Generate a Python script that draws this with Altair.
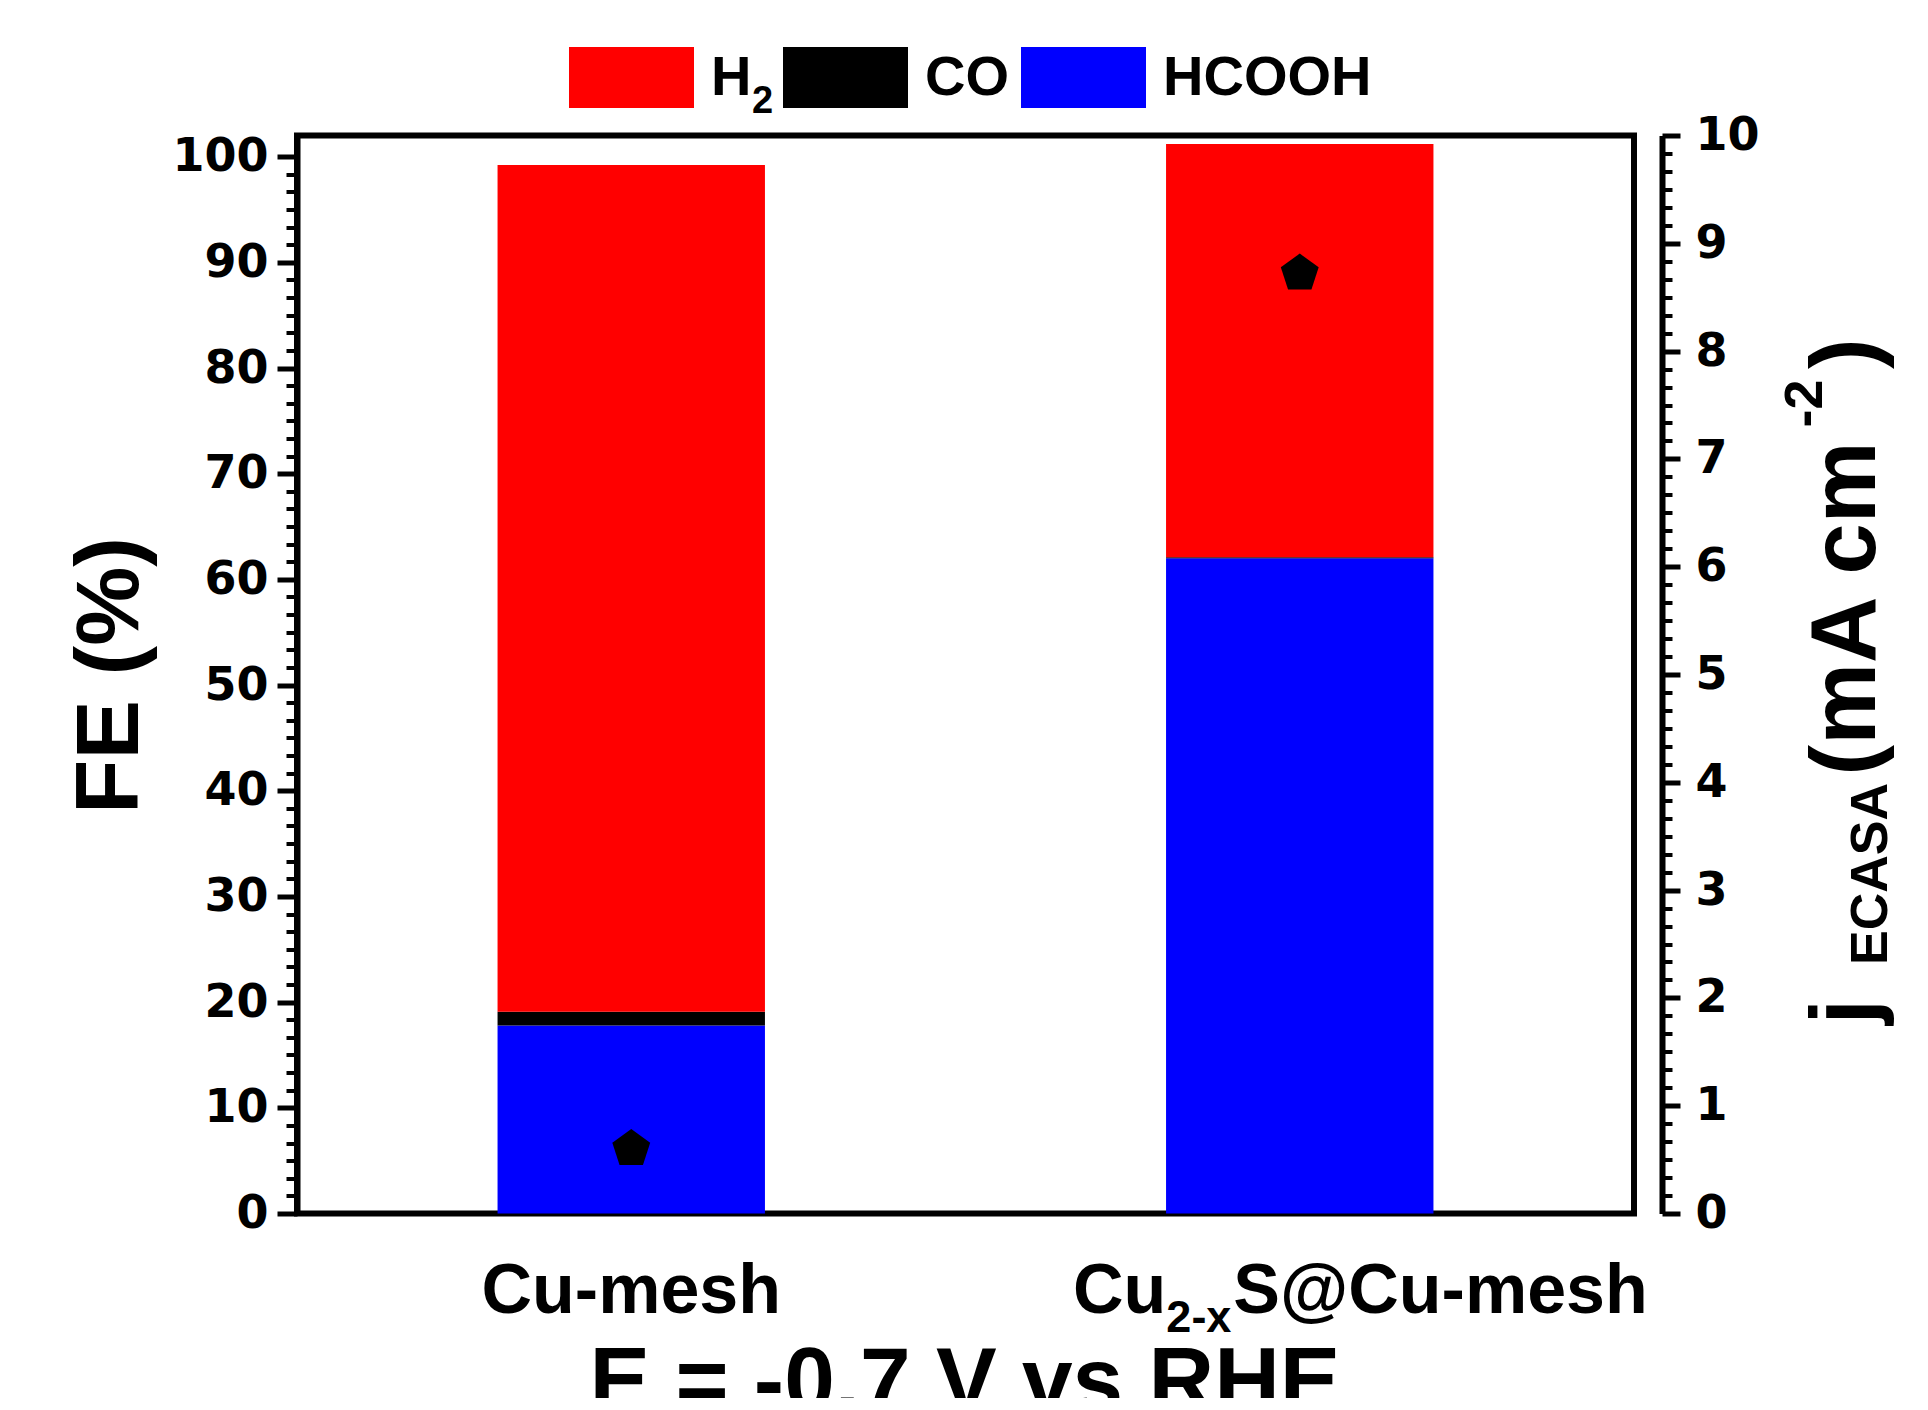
import altair as alt
import pandas as pd

# ---------------- data ----------------
categories = ["Cu-mesh", "Cu2-xS@Cu-mesh"]
products = ["H2", "CO", "HCOOH"]
product_colors = ["#FF0000", "#000000", "#0000FF"]
fe_h2 = [80.1, 39.1]
fe_co = [1.3, 0.1]
fe_hcooh = [17.8, 62.0]
j_ecasa = [0.60, 8.72]

left_major = [0, 10, 20, 30, 40, 50, 60, 70, 80, 90, 100]
left_minor = [round(k * 10 / 6, 4) for k in range(0, 61) if k % 6 != 0]
right_major = [0, 1, 2, 3, 4, 5, 6, 7, 8, 9, 10]
right_minor = [round(k / 6, 4) for k in range(0, 61) if k % 6 != 0]

rows = []
for i, c in enumerate(categories):
    rows.append({"category": c, "product": "HCOOH", "value": fe_hcooh[i], "order": 0})
    rows.append({"category": c, "product": "CO", "value": fe_co[i], "order": 1})
    rows.append({"category": c, "product": "H2", "value": fe_h2[i], "order": 2})
bar_df = pd.DataFrame(rows)
pt_df = pd.DataFrame({"category": categories, "j": j_ecasa})

# ---------------- style ----------------
FONT = "Liberation Sans, Arial, sans-serif"
TICKFONT = "DejaVu Sans, Verdana, sans-serif"
W, H = 1337, 1078
PENTAGON = "M0,-1L0.951,-0.309L0.588,0.809L-0.588,0.809L-0.951,-0.309Z"

xscale = alt.Scale(domain=categories, paddingInner=0.6, paddingOuter=0.3)
yscale_fe = alt.Scale(domain=[0, 102], nice=False, zero=True)
yscale_j = alt.Scale(domain=[0, 10], nice=False, zero=True)

# legend label for H2: "H" plus blank room (the subscript 2 is drawn separately)
H2_LABEL = "H\u2005\u200a\u200b"

bars = alt.Chart(bar_df).mark_bar(strokeWidth=0).encode(
    x=alt.X("category:N", sort=categories, scale=xscale,
            axis=alt.Axis(orient="bottom", labels=False, title=None, tickSize=17,
                          tickWidth=4, tickColor="black", domainWidth=6,
                          domainColor="black", bandPosition=0.5, grid=False)),
    y=alt.Y("value:Q", stack="zero", scale=yscale_fe,
            axis=alt.Axis(orient="left", values=left_major, tickSize=20, tickWidth=5,
                          tickColor="black", domainWidth=6, domainColor="black",
                          labelFont=TICKFONT, labelFontWeight="bold", labelFontSize=46,
                          labelColor="black", labelPadding=9, title=None, grid=False,
                          labelOverlap=False, labelFlush=False)),
    color=alt.Color("product:N", scale=alt.Scale(domain=products, range=product_colors),
                    legend=alt.Legend(orient="none", legendX=272, legendY=-120.5,
                                      direction="horizontal", title=None,
                                      symbolType="M-1,-0.488H1V0.488H-1Z",
                                      symbolSize=15625, symbolStrokeWidth=0,
                                      symbolOpacity=1,
                                      labelFont=FONT, labelFontWeight="bold",
                                      labelFontSize=56, labelColor="black",
                                      labelOffset=17, columnPadding=12, padding=0,
                                      labelLimit=500,
                                      labelExpr="datum.label == 'H2' ? '" + H2_LABEL + "' : datum.label")),
    order=alt.Order("order:Q"),
)

minor_left = alt.Chart(bar_df).mark_point(opacity=0).encode(
    y=alt.Y("value:Q", scale=yscale_fe,
            axis=alt.Axis(orient="left", values=left_minor, tickSize=11, tickWidth=4,
                          tickColor="black", labels=False, domain=False, title=None,
                          grid=False)),
)

points = alt.Chart(pt_df).mark_point(shape=PENTAGON, filled=True, size=1585,
                                     color="black", opacity=1, strokeWidth=0).encode(
    x=alt.X("category:N", sort=categories, scale=xscale, axis=None),
    y=alt.Y("j:Q", scale=yscale_j,
            axis=alt.Axis(orient="right", offset=28, values=right_major, tickSize=18,
                          tickWidth=5, tickColor="black", domainWidth=6,
                          domainColor="black", labelFont=TICKFONT,
                          labelFontWeight="bold", labelFontSize=46, labelColor="black",
                          labelPadding=15, title=None, grid=False, labelOverlap=False,
                          labelFlush=False)),
)

minor_right = alt.Chart(pt_df).mark_point(opacity=0).encode(
    y=alt.Y("j:Q", scale=yscale_j,
            axis=alt.Axis(orient="right", offset=28, values=right_minor, tickSize=10,
                          tickWidth=4, tickColor="black", labels=False, domain=False,
                          title=None, grid=False)),
)


def text_at(text, x, y, size, angle=0, align="center"):
    return alt.Chart(alt.Data(values=[{}])).mark_text(
        text=text, font=FONT, fontWeight="bold", fontSize=size, angle=angle,
        align=align, baseline="alphabetic", color="black",
    ).encode(x=alt.value(x), y=alt.value(y))


def cat_text(cat, text, dx, y, size, align):
    return alt.Chart(alt.Data(values=[{"category": cat}])).mark_text(
        text=text, font=FONT, fontWeight="bold", fontSize=size, align=align,
        baseline="alphabetic", color="black", dx=dx,
    ).encode(x=alt.X("category:N", sort=categories, scale=xscale, axis=None),
             y=alt.value(y))


texts = [
    # subscript of the H2 legend label
    text_at("2", 455, -23, 38, align="left"),
    # x tick labels
    cat_text(categories[0], "Cu-mesh", 0, 1177.5, 70, "center"),
    cat_text(categories[1], "Cu", -226.75, 1177.5, 70, "left"),
    cat_text(categories[1], "2-x", -133.4, 1196, 45, "left"),
    cat_text(categories[1], "S@Cu-mesh", -66.4, 1177.5, 70, "left"),
    # x title
    text_at("E = -0.7 V vs RHE", 668, 1275.5, 91),
    # left title
    text_at("FE (%)", -159, 540, 89, angle=270),
    # right title
    text_at("j", 1578, 889, 92, angle=270, align="left"),
    text_at("ECASA", 1590, 829.5, 52, angle=270, align="left"),
    text_at("(mA cm", 1578, 640, 92, angle=270, align="left"),
    text_at("-2", 1525, 292, 54, angle=270, align="left"),
    text_at(")", 1578, 233.5, 92, angle=270, align="left"),
]

chart = alt.layer(bars, minor_left, points, minor_right, *texts).resolve_scale(
    y="independent"
).properties(
    width=W, height=H,
    autosize=alt.AutoSizeParams(type="none"),
    padding={"left": 289, "top": 127.5, "right": 274, "bottom": 184.5},
    background="white",
).configure_view(stroke="black", strokeWidth=6)

chart.save("out.html", embed_options={"renderer": "svg", "actions": False})
